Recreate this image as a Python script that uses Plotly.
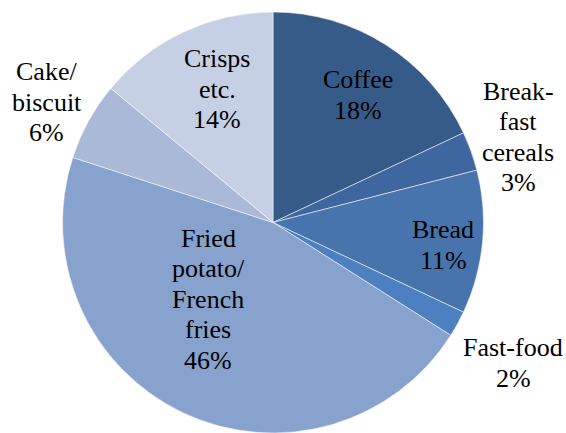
import plotly.graph_objects as go

# Share of acrylamide intake by food group (%)
categories = ["Coffee", "Break-<br>fast<br>cereals", "Bread", "Fast-food",
              "Fried<br>potato/<br>French<br>fries", "Cake/<br>biscuit", "Crisps<br>etc."]
shares = [18, 3, 11, 2, 46, 6, 14]
colors = ["#375b89", "#3e67a0", "#4774ac", "#4c80c1", "#87a2cc", "#aab9d8", "#c6d0e4"]

# Label block centres in pixels (x from left, y from top)
label_pos = [(358, 95), (518, 137), (443, 245), (513, 363),
             (208, 299), (47, 102), (217, 89)]

W, H = 566, 433
LINE_PX = 30.5
FONT = dict(family="'Times New Roman', 'Liberation Serif', 'DejaVu Serif', serif",
            size=26, color="black")

fig = go.Figure(go.Pie(
    labels=categories,
    values=shares,
    sort=False,
    direction="clockwise",
    rotation=0,
    textinfo="none",
    hoverinfo="label+percent",
    marker=dict(colors=colors, line=dict(color="rgba(255,255,255,0.65)", width=0.8)),
    domain=dict(x=[62 / W, 484 / W], y=[0, 421 / H]),
))

annotations = []
for cat, val, (px, py) in zip(categories, shares, label_pos):
    lines = cat.split("<br>") + [f"{val}%"]
    n = len(lines)
    for i, line in enumerate(lines):
        annotations.append(dict(
            text=line, x=px / W, y=1 - py / H, xref="paper", yref="paper",
            xanchor="center", yanchor="middle", showarrow=False,
            yshift=-(i - (n - 1) / 2) * LINE_PX, font=FONT,
        ))

fig.update_layout(
    width=W, height=H,
    margin=dict(l=0, r=0, t=0, b=0),
    paper_bgcolor="white", plot_bgcolor="white",
    showlegend=False,
    font=FONT,
    annotations=annotations,
)

fig.write_html("out.html")
